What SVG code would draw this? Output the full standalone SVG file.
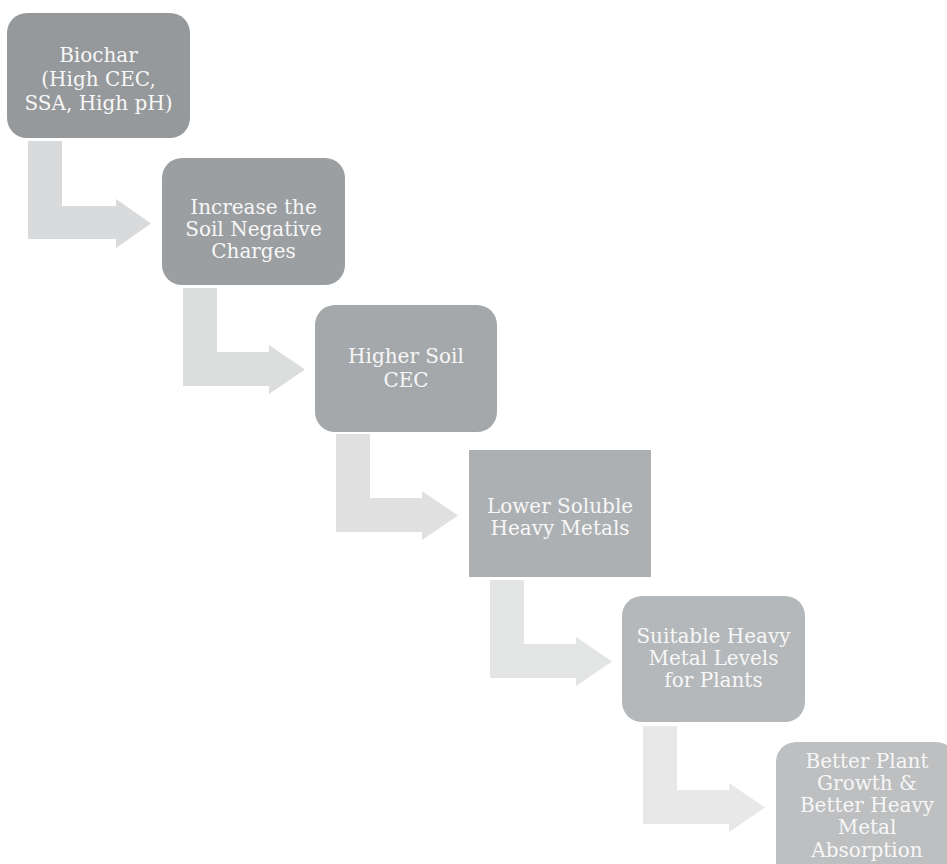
<svg xmlns="http://www.w3.org/2000/svg" width="947" height="864" viewBox="0 0 947 864">
  <style>
    .lbl { font-family: "DejaVu Serif", "Liberation Serif", serif; font-size: 20px; fill: #f7f7f7; text-anchor: middle; }
  </style>
  <rect width="947" height="864" fill="#ffffff"/>

  <!-- bent arrows linking each step to the next -->
  <g id="connectors">
    <path fill="#d9dadb" d="M28 141 V239 H116 V248 L151 223.5 L116 199 V206 H62 V141 Z"/>
    <path fill="#dcdddd" d="M183 288 V386 H269 V394 L305 369.5 L269 345 V352 H217 V288 Z"/>
    <path fill="#e0e0e0" d="M336 434 V532 H422 V540 L458 515.5 L422 491 V498 H370 V434 Z"/>
    <path fill="#e3e4e4" d="M490 580 V678 H576 V686 L612 661.5 L576 637 V644 H524 V580 Z"/>
    <path fill="#e8e8e8" d="M643 726 V824 H729 V832 L765 807.5 L729 783 V790 H677 V726 Z"/>
  </g>

  <g id="biochar">
    <rect x="7" y="13" width="183" height="125" rx="20" fill="#96999c"/>
    <text class="lbl" x="98.5" y="62">Biochar</text>
    <text class="lbl" x="98.5" y="86">(High CEC,</text>
    <text class="lbl" x="98.5" y="110">SSA, High pH)</text>
  </g>

  <g id="negative-charges">
    <rect x="162" y="158" width="183" height="127" rx="20" fill="#9c9fa2"/>
    <text class="lbl" x="253.5" y="214">Increase the</text>
    <text class="lbl" x="253.5" y="236">Soil Negative</text>
    <text class="lbl" x="253.5" y="258">Charges</text>
  </g>

  <g id="higher-cec">
    <rect x="315" y="305" width="182" height="127" rx="20" fill="#a5a8aa"/>
    <text class="lbl" x="406" y="363">Higher Soil</text>
    <text class="lbl" x="406" y="387">CEC</text>
  </g>

  <g id="soluble-metals">
    <rect x="469" y="450" width="182" height="127" fill="#adb0b3"/>
    <text class="lbl" x="560" y="513">Lower Soluble</text>
    <text class="lbl" x="560" y="535">Heavy Metals</text>
  </g>

  <g id="suitable-levels">
    <rect x="622" y="596" width="183" height="126" rx="20" fill="#b5b8ba"/>
    <text class="lbl" x="713.5" y="643">Suitable Heavy</text>
    <text class="lbl" x="713.5" y="665">Metal Levels</text>
    <text class="lbl" x="713.5" y="687">for Plants</text>
  </g>

  <g id="better-growth">
    <rect x="776" y="742" width="180" height="140" rx="20" fill="#bdbfc1"/>
    <text class="lbl" x="867" y="768">Better Plant</text>
    <text class="lbl" x="867" y="790">Growth &amp;</text>
    <text class="lbl" x="867" y="812">Better Heavy</text>
    <text class="lbl" x="867" y="834">Metal</text>
    <text class="lbl" x="867" y="857">Absorption</text>
  </g>
</svg>
